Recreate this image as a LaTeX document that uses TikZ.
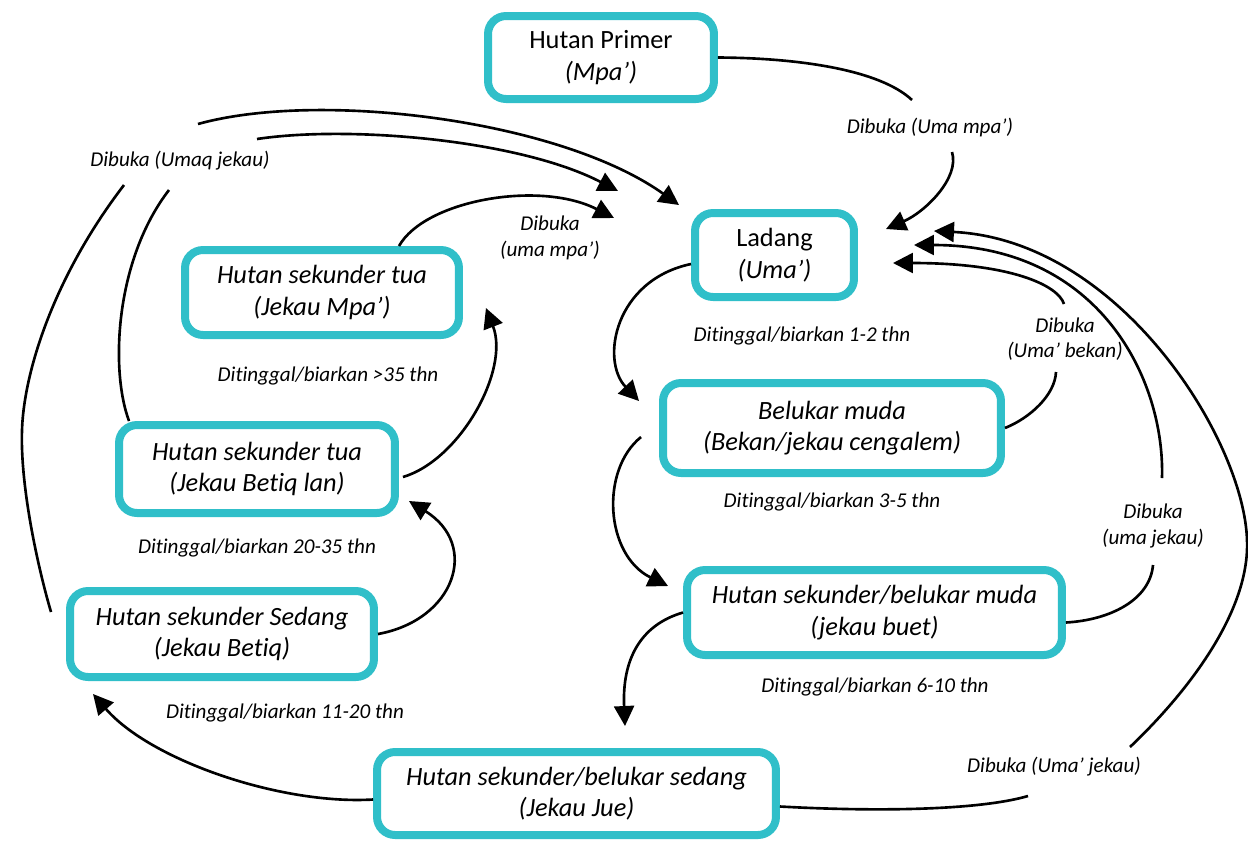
\documentclass[tikz,border=0pt]{standalone}
\usepackage{fontspec}
\setmainfont{Carlito}[Ligatures=NoCommon]
\usetikzlibrary{arrows.meta,calc}
\definecolor{boxteal}{RGB}{48,191,201}
\begin{document}
\begin{tikzpicture}[x=0.02cm,y=-0.02cm,
  stage/.style={draw=boxteal, line width=0.16cm, rounded corners=0.36cm, fill=white,
    align=center, inner sep=0pt, font=\fontsize{15}{18}\selectfont},
  stagei/.style={stage, font=\itshape\fontsize{15}{18}\selectfont},
  note/.style={align=center, inner sep=1pt, font=\itshape\fontsize{12}{14.5}\selectfont},
  link/.style={line width=1.5pt},
  flow/.style={link, -{Triangle[length=0.4cm,width=0.4cm]}}]

\useasboundingbox (0,0) rectangle (1248,840);

% succession stages
\node[stage, minimum width=4.52cm, minimum height=1.66cm] (primer) at (601,57.5) {Hutan Primer\\\textit{(Mpa’)}};
\node[stage, minimum width=3.18cm, minimum height=1.68cm] (ladang) at (774.5,255) {Ladang\\\textit{(Uma’)}};
\node[stagei, minimum width=5.48cm, minimum height=1.70cm] (mpa) at (322,292.5) {Hutan sekunder tua\\(Jekau Mpa’)};
\node[stagei, minimum width=6.76cm, minimum height=1.80cm] (bekan) at (832,428) {Belukar muda\\(Bekan/jekau cengalem)};
\node[stagei, minimum width=5.52cm, minimum height=1.76cm] (betiqlan) at (257,469) {Hutan sekunder tua\\(Jekau Betiq lan)};
\node[stagei, minimum width=7.50cm, minimum height=1.70cm] (buet) at (874.5,612.5) {Hutan sekunder/belukar muda\\(jekau buet)};
\node[stagei, minimum width=6.08cm, minimum height=1.72cm] (sedang) at (222,634) {Hutan sekunder Sedang\\(Jekau Betiq)};
\node[stagei, minimum width=7.98cm, minimum height=1.66cm] (jue) at (576.5,793.5) {Hutan sekunder/belukar sedang\\(Jekau Jue)};

% transition labels
\node[note] (lUmaMpa) at (930,127) {Dibuka (Uma mpa’)};
\node[note] (lUmaq) at (180,161) {Dibuka (Umaq jekau)};
\node[note] (lumampa) at (550,238) {Dibuka\\(uma mpa’)};
\node[note] (lt12) at (802,336) {Ditinggal/biarkan 1-2 thn};
\node[note] (lBekan) at (1065,339) {Dibuka\\(Uma’ bekan)};
\node[note] (lt35) at (328,376) {Ditinggal/biarkan >35 thn};
\node[note] (lt35b) at (832,502) {Ditinggal/biarkan 3-5 thn};
\node[note] (lumajekau) at (1153,526) {Dibuka\\(uma jekau)};
\node[note] (lt2035) at (257,548) {Ditinggal/biarkan 20-35 thn};
\node[note] (lt610) at (875,687) {Ditinggal/biarkan 6-10 thn};
\node[note] (lt1120) at (285,713) {Ditinggal/biarkan 11-20 thn};
\node[note] (lUmaJekau) at (1054,767) {Dibuka (Uma’ jekau)};

% ends of the lines broken around the labels
\coordinate (gA1) at (912,100);
\coordinate (gA2) at (952,152);
\coordinate (gB1) at (198,124);
\coordinate (gB2) at (257,139);
\coordinate (gC1) at (124,185);
\coordinate (gC2) at (169,190);
\coordinate (gD1) at (1056,372);
\coordinate (gD2) at (1064,304);
\coordinate (gE1) at (1153,565);
\coordinate (gE2) at (1162,478);
\coordinate (gF1) at (1028,796);
\coordinate (gF2) at (1130,747);

% primary forest opened
\draw[link] (primer.east) .. controls (800,58) and (880,70) .. (gA1);
\draw[flow] (gA2) .. controls (960,178) and (925,212) .. ($(ladang.north east)+(28,20)$);

% old secondary forests opened (Umaq jekau)
\draw[link] ($(sedang.west)+(-15,-22)$) .. controls (40,575) and (20,490) .. (22,430)
  .. controls (24,370) and (55,275) .. (gC1);
\draw[flow] (gB1) .. controls (320,90) and (560,120) .. ($(ladang.north west)+(-12,-4)$);
\draw[link] ($(betiqlan.north west)+(14,0)$) .. controls (110,370) and (115,260) .. (gC2);
\draw[flow] (gB2) .. controls (350,125) and (520,140) .. ($(ladang.north west)+(-73,-18)$);
\draw[flow] ($(mpa.north)+(77,0)$) .. controls (425,200) and (540,180) .. ($(ladang.north west)+(-77,9)$);

% young stages opened
\draw[link] (bekan.east) .. controls (1030,418) and (1055,395) .. (gD1);
\draw[flow] (gD2) .. controls (1058,285) and (1010,263) .. ($(ladang.east)+(35,8)$);
\draw[link] ($(buet.east)+(0,10)$) .. controls (1110,620) and (1150,600) .. (gE1);
\draw[flow] (gE2) .. controls (1165,380) and (1100,245) .. ($(ladang.east)+(56,-10)$);
\draw[link] ($(jue.east)+(0,13)$) .. controls (880,812) and (980,810) .. (gF1);
\draw[flow] (gF2) .. controls (1190,690) and (1250,610) .. (1247,540)
  .. controls (1244,440) and (1120,240) .. ($(ladang.east)+(76,-24)$);

% fallow succession
\draw[flow] ($(ladang.west)+(0,9)$) .. controls (615,280) and (600,360) .. ($(bekan.north west)+(-20,22)$);
\draw[flow] ($(bekan.west)+(-18,9)$) .. controls (600,470) and (605,555) .. ($(buet.north west)+(-15,20)$);
\draw[flow] (buet.west) .. controls (640,625) and (622,660) .. ($(jue.north)+(48.5,-22)$);
\draw[flow] ($(jue.west)+(0,6)$) .. controls (280,805) and (150,760) .. ($(sedang.south west)+(27,13)$);
\draw[flow] (sedang.east) .. controls (455,620) and (480,545) .. ($(betiqlan.south east)+(10,-16)$);
\draw[flow] ($(betiqlan.east)+(4,8)$) .. controls (460,460) and (510,370) .. ($(mpa.east)+(23,15.5)$);
\end{tikzpicture}
\end{document}
